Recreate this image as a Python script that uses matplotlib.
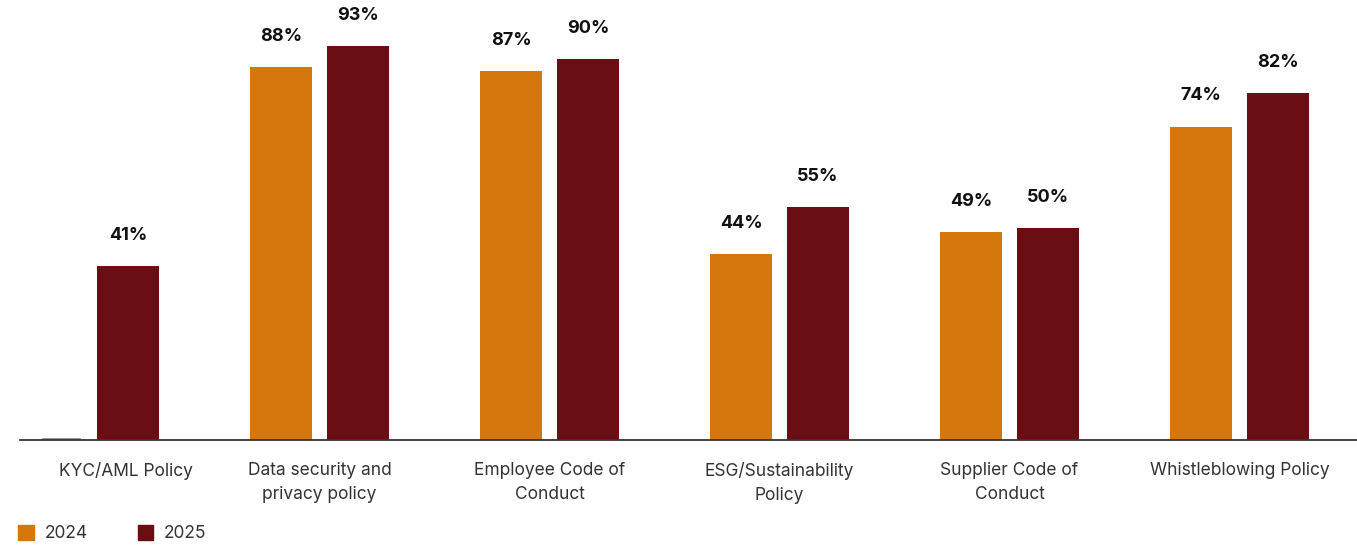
import numpy as np
import matplotlib.pyplot as plt
import matplotlib.transforms as mtransforms
from matplotlib.patches import Patch

plt.rcParams['font.family'] = ['Inter', 'DejaVu Sans']

categories = [
    "KYC/AML Policy",
    "Data security and\nprivacy policy",
    "Employee Code of\nConduct",
    "ESG/Sustainability\nPolicy",
    "Supplier Code of\nConduct",
    "Whistleblowing Policy",
]
# 2024 had no KYC/AML figure
values_2024 = [None, 88, 87, 44, 49, 74]
values_2025 = [41, 93, 90, 55, 50, 82]
series_names = ["2024", "2025"]

color_2024 = "#D5770D"
color_2025 = "#6A0E14"

fig = plt.figure(figsize=(13.57, 5.45), dpi=100)
ax = fig.add_axes([20 / 1357, 105 / 545, 1337 / 1357, 430 / 545])

x = np.arange(len(categories))
width = 0.27
offset = 0.167

h24 = [0 if v is None else v for v in values_2024]
ax.bar(x - offset, h24, width, color=color_2024)
ax.bar(x + offset, values_2025, width, color=color_2025)
# empty 2024 slot drawn as a faint stub on the baseline
ax.plot([x[0] - offset - 0.035, x[0] - offset + 0.126], [0.3, 0.3], color="#808080", lw=1.2)

for xi, v in zip(x, values_2024):
    if v is not None:
        ax.annotate(f"{v}%", (xi - offset, v), xytext=(0, 22), textcoords="offset points",
                    ha="center", va="center", fontsize=13, fontweight="bold", color="#111111")
for xi, v in zip(x, values_2025):
    ax.annotate(f"{v}%", (xi + offset, v), xytext=(0, 22), textcoords="offset points",
                ha="center", va="center", fontsize=13, fontweight="bold", color="#111111")

ax.set_xlim(-0.302, 5.511)
ax.set_ylim(0, 101.5)
ax.set_xticks(x)
ax.set_xticklabels(categories, fontsize=12.5, color="#333333", linespacing=1.55)
ax.tick_params(axis="x", length=0, pad=16)
# first label sits right of its group
first = ax.get_xticklabels()[0]
first.set_transform(first.get_transform() +
                    mtransforms.ScaledTranslation(0.36, 0, fig.dpi_scale_trans))
ax.set_yticks([])
for s in ["top", "right", "left"]:
    ax.spines[s].set_visible(False)
ax.spines["bottom"].set_color("#333333")
ax.spines["bottom"].set_linewidth(1.3)

handles = [Patch(color=color_2024, label=series_names[0]),
           Patch(color=color_2025, label=series_names[1])]
fig.legend(handles=handles, loc="lower left", bbox_to_anchor=(0.002, -0.024), ncol=2,
           frameon=False, fontsize=12.5, handlelength=0.9, handleheight=0.9,
           handletextpad=0.6, columnspacing=2.9, labelcolor="#333333")

fig.savefig("out.png", dpi=100)
